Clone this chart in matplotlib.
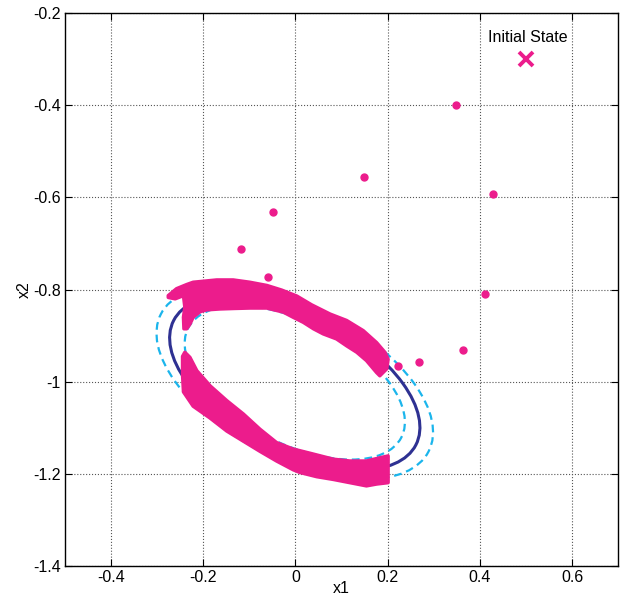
import matplotlib
matplotlib.use('Agg')
import matplotlib.pyplot as plt
from matplotlib.patches import Ellipse, Polygon
import numpy as np

plt.rcParams['font.family'] = ['Liberation Sans', 'DejaVu Sans']

# level set ellipse (centre, semi axes, tilt in degrees)
ell_center = (-0.0015, -1.002)
ell_axes = (0.2954, 0.1498)
ell_angle = -27.2
# inner / outer bound ellipses as scale factors of the main one
bound_scales = [0.88, 1.105]

# trajectory band, upper part (outline)
band_up_x = [-0.276, -0.258, -0.236, -0.222, -0.171, -0.135, -0.099, -0.062, -0.030, 0.003,
             0.035, 0.075, 0.111, 0.147, 0.176, 0.194, 0.201, 0.198, 0.183,
             0.176, 0.154, 0.133, 0.111, 0.089, 0.060, 0.039, 0.017, -0.005, -0.026,
             -0.062, -0.099, -0.135, -0.164, -0.193, -0.207, -0.222, -0.229, -0.236,
             -0.242, -0.243, -0.240, -0.243, -0.261, -0.276]
band_up_y = [-0.813, -0.798, -0.789, -0.784, -0.779, -0.779, -0.784, -0.791, -0.801, -0.814,
             -0.833, -0.853, -0.867, -0.889, -0.915, -0.936, -0.951, -0.972, -0.987,
             -0.980, -0.954, -0.936, -0.922, -0.907, -0.896, -0.885, -0.871, -0.860, -0.849,
             -0.840, -0.840, -0.841, -0.842, -0.844, -0.848, -0.860, -0.875, -0.885,
             -0.885, -0.860, -0.838, -0.813, -0.820, -0.817]

# trajectory band, lower part (outline)
band_lo_x = [-0.240, -0.229, -0.214, -0.185, -0.149, -0.113, -0.077, -0.041, -0.005, 0.031,
             0.082, 0.118, 0.154, 0.183, 0.201, 0.201,
             0.176, 0.154, 0.118, 0.082, 0.046, 0.010, -0.005, -0.041, -0.077, -0.113,
             -0.149, -0.185, -0.222, -0.243, -0.245, -0.245]
band_lo_y = [-0.936, -0.947, -0.976, -1.009, -1.041, -1.070, -1.103, -1.132, -1.146, -1.155,
             -1.168, -1.172, -1.172, -1.165, -1.161, -1.219,
             -1.222, -1.226, -1.219, -1.212, -1.206, -1.197, -1.191, -1.172, -1.151, -1.129,
             -1.107, -1.079, -1.053, -1.022, -0.985, -0.945]

# isolated samples of the transient
pts_x = [0.348, 0.149, 0.428, -0.049, -0.119, -0.059, 0.412, 0.363, 0.268, 0.223]
pts_y = [-0.399, -0.555, -0.593, -0.632, -0.712, -0.772, -0.810, -0.932, -0.957, -0.965]

x0 = (0.5, -0.3)

pink = '#EC1C8C'
navy = '#2E3192'
cyan = '#1BB5EC'

fig = plt.figure(figsize=(6.25, 5.99), dpi=100)
ax = fig.add_axes([0.104, 0.055, 0.885, 0.923])

for s in bound_scales:
    ax.add_patch(Ellipse(ell_center, 2*ell_axes[0]*s, 2*ell_axes[1]*s, angle=ell_angle,
                         fill=False, ec=cyan, lw=1.6, ls=(0, (3.5, 2.2)), zorder=2))
ax.add_patch(Ellipse(ell_center, 2*ell_axes[0], 2*ell_axes[1], angle=ell_angle,
                     fill=False, ec=navy, lw=2.2, zorder=3))

for bx, by in [(band_up_x, band_up_y), (band_lo_x, band_lo_y)]:
    ax.add_patch(Polygon(np.column_stack([bx, by]), closed=True, fc=pink, ec=pink,
                         lw=2.5, joinstyle='round', zorder=4))

ax.plot(pts_x, pts_y, 'o', color=pink, ms=5, mec=pink, zorder=5)
ax.plot(x0[0], x0[1], 'x', color=pink, ms=10, mew=2.8, zorder=5)
ax.text(x0[0] + 0.005, x0[1] + 0.048, 'Initial State', ha='center', va='center', fontsize=11.5)

ax.set_xlim(-0.5, 0.7)
ax.set_ylim(-1.4, -0.2)
ax.set_xticks(np.arange(-0.4, 0.61, 0.2))
ax.set_yticks(np.arange(-1.4, -0.19, 0.2))
ax.set_xticklabels(['-0.4', '-0.2', '0', '0.2', '0.4', '0.6'])
ax.set_yticklabels(['-1.4', '-1.2', '-1', '-0.8', '-0.6', '-0.4', '-0.2'])
ax.tick_params(direction='in', top=True, right=True, length=5, labelsize=11.5, pad=3)
ax.grid(True, ls=':', color='#555555', lw=0.8)
for sp in ax.spines.values():
    sp.set_linewidth(1.0)
ax.set_xlabel('x1', fontsize=11.5, labelpad=-3)
ax.set_ylabel('x2', fontsize=11.5, labelpad=1)

fig.savefig('out.png', dpi=100)
